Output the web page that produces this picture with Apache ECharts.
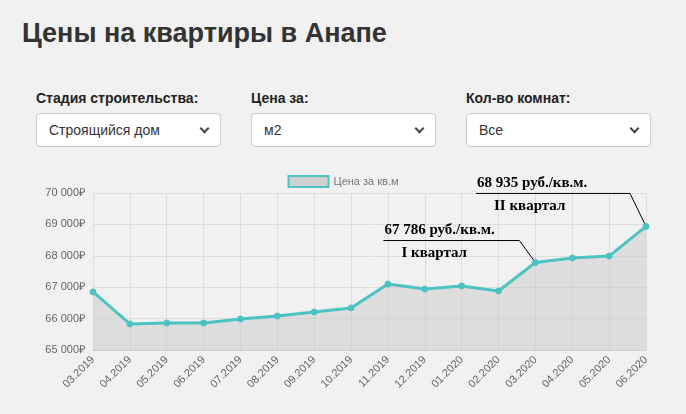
<!DOCTYPE html>
<html><head><meta charset="utf-8">
<script src="https://cdn.jsdelivr.net/npm/echarts@6/dist/echarts.min.js"></script>
<style>
body{margin:0;background:#f1f1f1;font-family:"Liberation Sans",Arial,sans-serif;width:686px;height:414px;overflow:hidden;position:relative}
h1{position:absolute;left:22px;top:18px;margin:0;font-size:27px;font-weight:bold;color:#333}
.f{position:absolute;top:90px;width:185px}
.f label{display:block;font-size:14px;font-weight:bold;color:#222;margin-bottom:7px}
.f div{height:32px;border:1px solid #ccc;border-radius:4px;background:#fff;font-size:14px;color:#333;line-height:32px;padding-left:12px;position:relative}
.f div:after{content:"";position:absolute;right:12px;top:11px;width:5px;height:5px;border-right:2px solid #444;border-bottom:2px solid #444;transform:rotate(45deg)}
#c{position:absolute;left:0;top:160px;width:686px;height:254px}
</style></head><body>
<h1>Цены на квартиры в Анапе</h1>
<div class="f" style="left:36px"><label>Стадия строительства:</label><div>Строящийся дом</div></div>
<div class="f" style="left:251px"><label>Цена за:</label><div>м2</div></div>
<div class="f" style="left:466px"><label>Кол-во комнат:</label><div>Все</div></div>
<div id="c"></div>
<script>
var months = ['03.2019','04.2019','05.2019','06.2019','07.2019','08.2019','09.2019','10.2019','11.2019','12.2019','01.2020','02.2020','03.2020','04.2020','05.2020','06.2020'];
var prices = [66850,65830,65860,65860,65990,66080,66210,66340,67100,66940,67040,66880,67786,67930,67990,68935];
var notes = [{idx:12, price:'67 786 руб./кв.м.', q:'I квартал', dx:-152, dy:-22}, {idx:15, price:'68 935 руб./кв.м.', q:'II квартал', dx:-170, dy:-33}];

var chart = echarts.init(document.getElementById('c'));
chart.setOption({
  animation:false,
  legend:{top:10,left:'center',icon:'rect',itemWidth:40,itemHeight:11,textStyle:{color:'#777',fontSize:11},data:['Цена за кв.м'],
    itemStyle:{color:'#d0d0d0',borderColor:'#4cc3c1',borderWidth:2}},
  grid:{left:93,right:40,top:33,bottom:64},
  xAxis:{type:'category',boundaryGap:false,data:months,
    axisLabel:{rotate:45,color:'#666',fontSize:11,margin:8},
    axisLine:{lineStyle:{color:'#ccc'}},axisTick:{show:false},
    splitLine:{show:true,lineStyle:{color:'#ddd'}}},
  yAxis:{type:'value',min:65000,max:70000,interval:1000,
    axisLabel:{color:'#666',fontSize:11,formatter:function(v){return String(v).replace(/(\d{2})(\d{3})/,'$1 $2')+'₽';}},
    splitLine:{lineStyle:{color:'#ddd'}}},
  series:[{name:'Цена за кв.м',type:'line',data:prices,symbol:'circle',symbolSize:6,
    lineStyle:{color:'#4cc3c1',width:3},itemStyle:{color:'#4cc3c1',borderColor:'#4cc3c1'},
    areaStyle:{color:'rgba(200,200,200,0.7)'}}]
});
var g = [];
notes.forEach(function(n){
  var p = chart.convertToPixel({seriesIndex:0},[n.idx,prices[n.idx]]);
  var hx = p[0]+n.dx, hy = p[1]+n.dy, ex = p[0]-16;
  g.push({type:'polyline',shape:{points:[[hx,hy],[ex,hy],[p[0],p[1]]]},style:{stroke:'#000',lineWidth:1,fill:null}});
  g.push({type:'text',x:hx+1,y:hy-3,style:{text:n.price,font:'bold 15px "Liberation Serif","Times New Roman",serif',fill:'#000',textVerticalAlign:'bottom'}});
  g.push({type:'text',x:hx+18,y:hy+5,style:{text:n.q,font:'bold 15px "Liberation Serif","Times New Roman",serif',fill:'#000',textVerticalAlign:'top'}});
});
chart.setOption({graphic:g});
</script>
</body></html>
